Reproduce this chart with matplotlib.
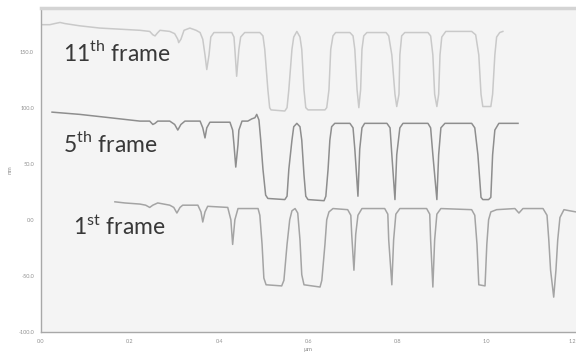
import matplotlib
matplotlib.use("Agg")
import matplotlib.pyplot as plt

plt.rcParams['font.family'] = ['Lato', 'DejaVu Sans']
plt.rcParams['mathtext.fontset'] = 'custom'
plt.rcParams['mathtext.rm'] = 'Lato'

# profile of the 11th frame (um, nm)
x11 = [0.000, 0.020, 0.031, 0.043, 0.054, 0.087, 0.132, 0.177, 0.222, 0.244, 0.251, 0.256, 0.260, 0.267,
       0.289, 0.300, 0.307, 0.309, 0.314, 0.321, 0.334, 0.348, 0.357, 0.363, 0.368, 0.372, 0.377, 0.381,
       0.388, 0.428, 0.433, 0.435, 0.439, 0.444, 0.448, 0.457, 0.491, 0.498, 0.502, 0.509, 0.513, 0.516,
       0.547, 0.552, 0.556, 0.563, 0.567, 0.574, 0.581, 0.585, 0.590, 0.594, 0.599, 0.637, 0.641, 0.646,
       0.650, 0.655, 0.661, 0.693, 0.700, 0.704, 0.709, 0.713, 0.717, 0.720, 0.724, 0.731, 0.774, 0.780,
       0.787, 0.794, 0.798, 0.803, 0.805, 0.809, 0.816, 0.868, 0.874, 0.879, 0.883, 0.888, 0.892, 0.895,
       0.899, 0.908, 0.966, 0.975, 0.982, 0.987, 0.991, 1.009, 1.013, 1.018, 1.022, 1.029, 1.036]
y11 = [174, 174, 175, 176, 175, 173, 171, 170, 169, 168, 165, 164, 166, 169,
       168, 166, 161, 158, 161, 169, 171, 169, 167, 161, 147, 134, 147, 163,
       167, 167, 163, 152, 128, 152, 163, 167, 167, 164, 152, 116, 100, 98,
       97, 100, 116, 152, 163, 168, 163, 152, 116, 100, 98, 98, 100, 116,
       152, 164, 167, 167, 164, 152, 116, 100, 116, 152, 164, 167, 167, 164,
       147, 112, 101, 112, 147, 164, 167, 167, 164, 147, 112, 101, 112, 147,
       163, 168, 168, 165, 147, 112, 101, 101, 112, 147, 163, 167, 168]

# profile of the 5th frame
x5 = [0.025, 0.087, 0.155, 0.222, 0.244, 0.251, 0.256, 0.262, 0.289, 0.300, 0.307, 0.314, 0.323, 0.357,
      0.363, 0.368, 0.372, 0.379, 0.424, 0.430, 0.433, 0.437, 0.442, 0.444, 0.451, 0.464, 0.473, 0.480,
      0.484, 0.489, 0.493, 0.498, 0.504, 0.509, 0.547, 0.552, 0.556, 0.563, 0.567, 0.574, 0.581, 0.585,
      0.590, 0.594, 0.599, 0.635, 0.639, 0.644, 0.648, 0.652, 0.659, 0.693, 0.700, 0.704, 0.711, 0.715,
      0.720, 0.726, 0.776, 0.783, 0.787, 0.794, 0.798, 0.805, 0.812, 0.868, 0.874, 0.879, 0.888, 0.892,
      0.897, 0.906, 0.966, 0.973, 0.980, 0.987, 0.991, 1.004, 1.009, 1.013, 1.018, 1.027, 1.070]
y5 = [96, 94, 91, 88, 88, 85, 86, 88, 88, 85, 80, 85, 88, 88,
      82, 73, 82, 87, 87, 80, 67, 47, 67, 80, 88, 88, 90, 91,
      94, 89, 71, 45, 22, 19, 18, 21, 45, 71, 83, 86, 83, 71,
      40, 21, 18, 17, 21, 45, 71, 83, 86, 86, 82, 63, 21, 63,
      82, 86, 86, 82, 58, 18, 58, 82, 86, 86, 82, 58, 18, 58,
      82, 86, 86, 82, 58, 20, 18, 18, 20, 58, 80, 86, 86]

# profile of the 1st frame
x1 = [0.166, 0.188, 0.222, 0.235, 0.244, 0.251, 0.262, 0.289, 0.298, 0.305, 0.312, 0.318, 0.352, 0.359,
      0.363, 0.368, 0.374, 0.419, 0.426, 0.430, 0.435, 0.442, 0.487, 0.491, 0.496, 0.500, 0.505, 0.540,
      0.545, 0.552, 0.558, 0.563, 0.570, 0.576, 0.581, 0.585, 0.590, 0.626, 0.630, 0.637, 0.641, 0.646,
      0.655, 0.688, 0.695, 0.697, 0.702, 0.706, 0.711, 0.720, 0.771, 0.778, 0.780, 0.787, 0.791, 0.796,
      0.805, 0.865, 0.872, 0.874, 0.879, 0.883, 0.888, 0.897, 0.966, 0.973, 0.978, 0.982, 0.996, 1.000,
      1.004, 1.009, 1.022, 1.063, 1.072, 1.081, 1.126, 1.135, 1.139, 1.143, 1.150, 1.155, 1.159, 1.164,
      1.173, 1.186, 1.200]
y1 = [16, 15, 14, 13, 11, 13, 15, 13, 11, 6, 11, 13, 13, 7,
      -2, 7, 12, 11, 0, -22, 0, 10, 10, 4, -22, -52, -58, -59,
      -54, -22, 0, 8, 10, 6, -18, -49, -58, -60, -54, -22, 0, 7,
      10, 9, 4, -13, -45, -13, 4, 10, 10, 5, -18, -58, -18, 5,
      10, 10, 5, -18, -60, -18, 5, 10, 9, 4, -22, -58, -59, -22,
      0, 7, 9, 10, 6, 10, 10, 4, -18, -45, -69, -45, -18, 2,
      9, 8, 7]

labels = [r"11$^{\mathrm{th}}$ frame", r"5$^{\mathrm{th}}$ frame", r"1$^{\mathrm{st}}$ frame"]
label_x = [0.049, 0.049, 0.072]
label_y = [142, 60, -14]

yticks = [-100, -50, 0, 50, 100, 150]
xticks = [0.0, 0.2, 0.4, 0.6, 0.8, 1.0, 1.2]

fig = plt.figure(figsize=(5.76, 3.58), dpi=100)
ax = fig.add_axes([0.071, 0.073, 0.929, 0.905])
ax.set_facecolor('#f4f4f4')

ax.plot(x11, y11, color='#c9c9c9', lw=1.1)
ax.plot(x5, y5, color='#8e8e8e', lw=1.1)
ax.plot(x1, y1, color='#a4a4a4', lw=1.1)

for t, tx, ty in zip(labels, label_x, label_y):
    ax.text(tx, ty, t, fontsize=16.5, color='#383838', va='baseline', ha='left')

ax.set_xlim(0, 1.2)
ax.set_ylim(-100, 189)
ax.set_xticks(xticks)
ax.set_xticklabels([f"{v:.1f}" for v in xticks])
ax.set_yticks(yticks)
ax.set_yticklabels([f"{v:.1f}" for v in yticks])
ax.tick_params(length=0, labelsize=4, labelcolor='#909090', pad=5)
ax.get_xticklabels()[-1].set_horizontalalignment('right')
ax.set_xlabel("μm", fontsize=4.5, color='#909090', labelpad=2)
ax.set_ylabel("nm", fontsize=4.5, color='#909090', labelpad=4)

for side in ['left', 'bottom']:
    ax.spines[side].set_color('#a8a8a8')
    ax.spines[side].set_linewidth(1.0)
ax.spines['top'].set_color('#d4d4d4')
ax.spines['top'].set_linewidth(2.5)
ax.spines['right'].set_visible(False)

fig.savefig("out.png", dpi=100)
